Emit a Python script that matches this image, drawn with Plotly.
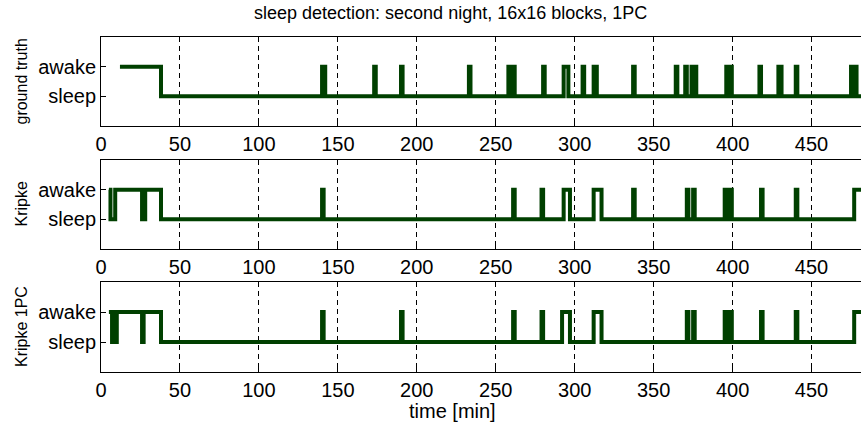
import plotly.graph_objects as go

# Sleep/wake state changes (minutes); 1 = awake, 0 = sleep, held until the next change
truth_t = [12, 38, 140, 142, 173, 174, 190, 191, 233, 234,
           258, 260, 260.5, 262, 280, 281, 293, 296, 305, 306, 312, 314,
           337, 338, 364, 365, 370, 371, 374, 375.5, 376, 377,
           396, 397.5, 398, 399.5, 417, 418, 429, 431, 440, 441,
           475, 476.5, 477, 478.5, 490]
truth_s = [1, 0, 1, 0, 1, 0, 1, 0, 1, 0,
           1, 0, 1, 0, 1, 0, 1, 0, 1, 0, 1, 0,
           1, 0, 1, 0, 1, 0, 1, 0, 1, 0,
           1, 0, 1, 0, 1, 0, 1, 0, 1, 0,
           1, 0, 1, 0, 0]

kripke_t = [5, 6, 9, 26, 28, 38, 140, 141, 261, 262, 279, 280, 293, 297,
            312, 317, 337, 338, 371, 372, 375, 376,
            395, 397, 397.5, 399.5, 418, 419, 440, 441, 477, 490]
kripke_s = [1, 0, 1, 0, 1, 0, 1, 0, 1, 0, 1, 0, 1, 0,
            1, 0, 1, 0, 1, 0, 1, 0,
            1, 0, 1, 0, 1, 0, 1, 0, 1, 1]

pc_t = [5, 7, 8, 9, 10, 26, 27, 38, 140, 141, 190, 191, 261, 262, 279, 280,
        292, 297, 312, 317, 371, 372, 375, 376,
        395, 397, 397.5, 399.5, 418, 419, 440, 441, 477, 490]
pc_s = [1, 0, 1, 0, 1, 0, 1, 0, 1, 0, 1, 0, 1, 0, 1, 0,
        1, 0, 1, 0, 1, 0, 1, 0,
        1, 0, 1, 0, 1, 0, 1, 0, 1, 1]

panel_names = ["ground truth", "Kripke", "Kripke 1PC"]
state_ticks = [0, 1]
state_labels = ["sleep", "awake"]
x_ticks = [0, 50, 100, 150, 200, 250, 300, 350, 400, 450]

W, H = 861, 428
L = 101
FONT = "Liberation Sans, Arial, sans-serif"
LINE = "#004000"

# panel top/bottom in pixels
panels_px = [(37, 126), (160, 249), (282, 372)]

fig = go.Figure()
series = [(truth_t, truth_s), (kripke_t, kripke_s), (pc_t, pc_s)]

for i, ((t, s), (top, bot)) in enumerate(zip(series, panels_px)):
    n = "" if i == 0 else str(i + 1)
    fig.add_trace(go.Scatter(
        x=t, y=s, mode="lines", line=dict(color=LINE, width=4, shape="hv"),
        xaxis="x" + n, yaxis="y" + n, showlegend=False, hoverinfo="skip"))
    dom = [1 - bot / H, 1 - top / H]
    fig.layout["xaxis" + n] = dict(
        domain=[0, 1], anchor="y" + n, range=[0, (W - L) / 1.579],
        tickvals=x_ticks, ticks="inside", ticklen=5, tickcolor="black",
        showline=True, linecolor="black", linewidth=1, mirror=True,
        showgrid=True, gridcolor="black", gridwidth=1, griddash="5px,4px",
        zeroline=False, tickfont=dict(family=FONT, size=20, color="black"))
    fig.layout["yaxis" + n] = dict(
        domain=dom, anchor="x" + n, range=[-1, 2],
        tickvals=state_ticks, ticktext=state_labels,
        ticks="inside", ticklen=5, tickcolor="black",
        showline=True, linecolor="black", linewidth=1, mirror=False,
        showgrid=False, zeroline=False,
        tickfont=dict(family=FONT, size=20, color="black"))
    fig.add_annotation(
        text=panel_names[i], textangle=-90, xref="paper", yref="paper",
        x=(21 - L) / (W - L), y=1 - ((top + bot) / 2) / H,
        xanchor="center", yanchor="middle", showarrow=False,
        font=dict(family=FONT, size=16, color="black"))

fig.add_annotation(
    text="sleep detection: second night, 16x16 blocks, 1PC",
    xref="paper", yref="paper", x=(450 - L) / (W - L), y=1 - 13 / H,
    xanchor="center", yanchor="middle", showarrow=False,
    font=dict(family=FONT, size=18, color="black"))
fig.add_annotation(
    text="time [min]", xref="paper", yref="paper",
    x=(452 - L) / (W - L), y=1 - 411 / H,
    xanchor="center", yanchor="middle", showarrow=False,
    font=dict(family=FONT, size=20, color="black"))

fig.update_layout(
    width=W, height=H, margin=dict(l=L, r=0, t=0, b=0),
    paper_bgcolor="white", plot_bgcolor="white",
    font=dict(family=FONT, color="black"))

fig.write_html("out.html")
